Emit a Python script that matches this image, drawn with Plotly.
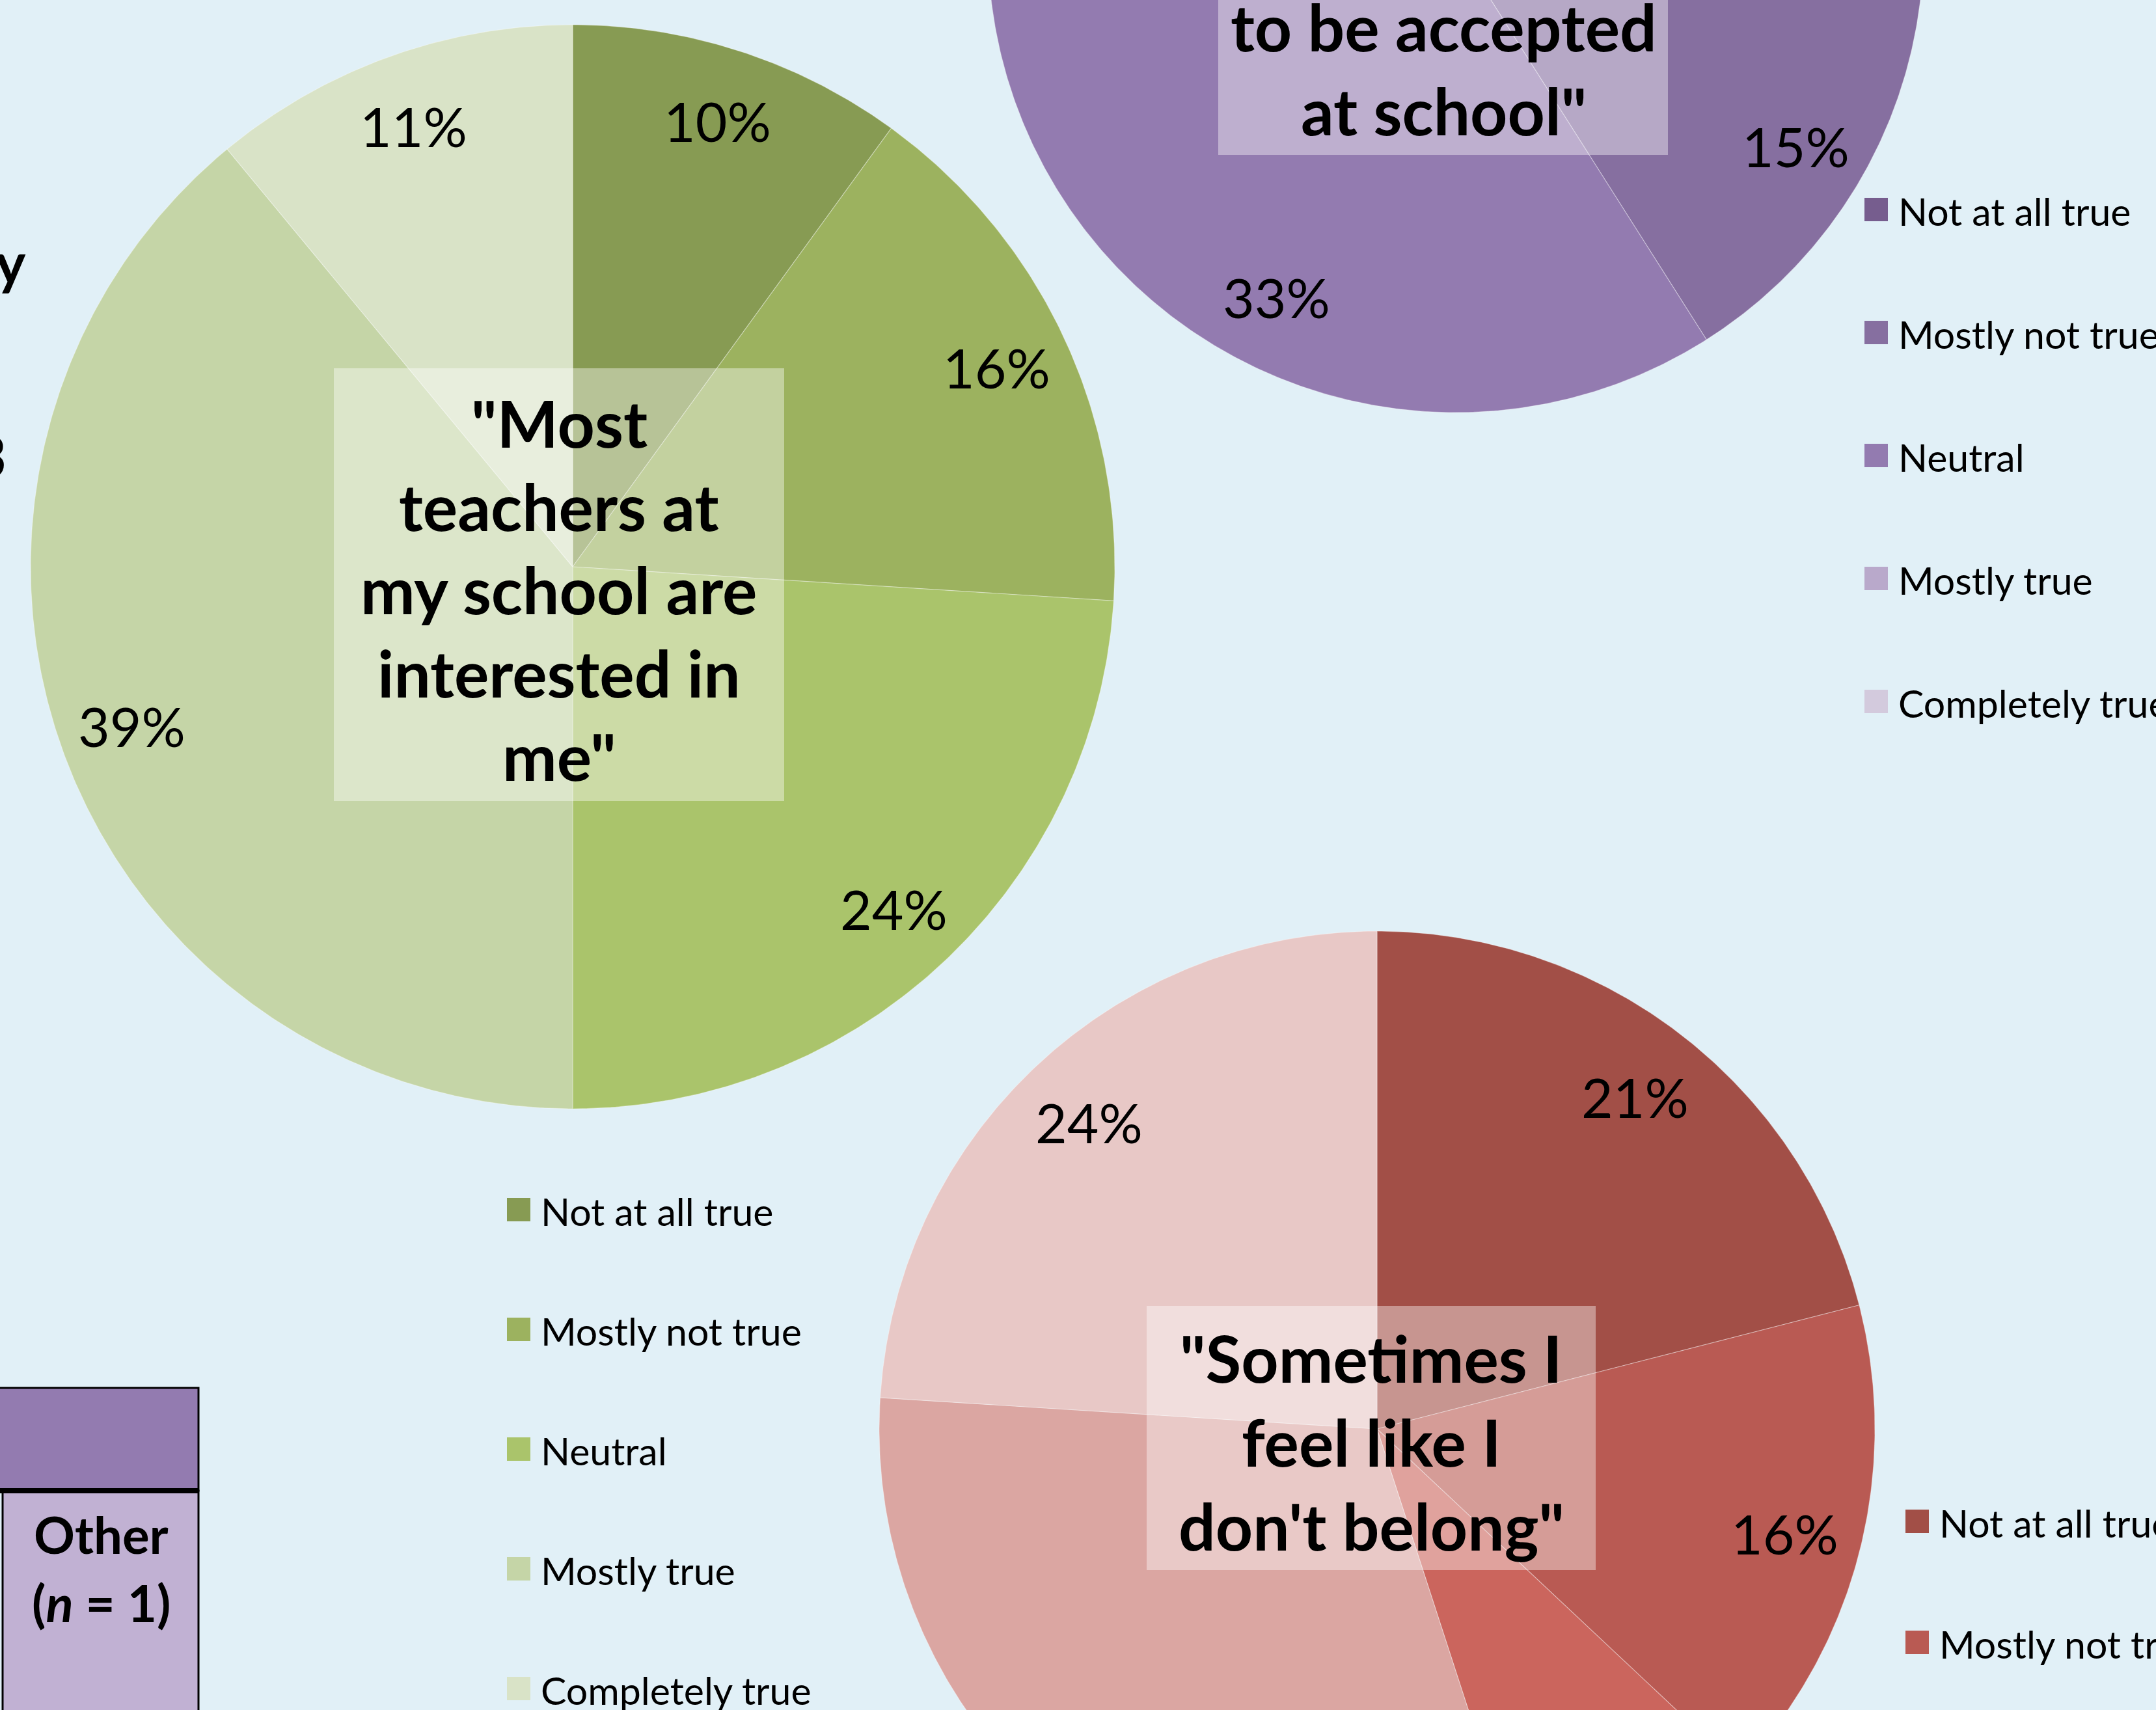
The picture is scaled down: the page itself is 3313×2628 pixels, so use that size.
import numpy as np
import plotly.graph_objects as go

# ---------------- data ----------------
categories = ["Not at all true", "Mostly not true", "Neutral", "Mostly true", "Completely true"]
teachers_values = [10, 16, 24, 39, 11]      # "Most teachers at my school are interested in me"
accepted_values = [26, 15, 33, 18, 8]       # "... to be accepted at school"
belong_values = [21, 16, 8, 31, 24]         # "Sometimes I feel like I don't belong"

teachers_title = ['"Most', 'teachers at', 'my school are', 'interested in', 'me"']
accepted_title = ['to be accepted', 'at school"']
belong_title = ['"Sometimes I', 'feel like I', "don't belong\""]

green_colors = ["#879B53", "#9CB25F", "#AAC46B", "#C5D5A7", "#D9E3C7"]
purple_colors = ["#765D8E", "#866FA0", "#937BB0", "#B9A9CB", "#D3CADD"]
red_colors = ["#A24F47", "#B95A53", "#CB655D", "#DBA6A2", "#E8C8C6"]

# ---------------- layout constants ----------------
W, H = 3313, 2628
BG = "#E1F0F7"
FONT = "Lato, 'Open Sans', sans-serif"

pies = [
    dict(values=teachers_values, colors=green_colors, cx=880, cy=871, r=833, lab=0.865,
         box=(513, 566, 1205, 1231), title=teachers_title, tx=859, ty0=649, tdy=128,
         leg_x=779, leg_y0=1859, leg_dy=184),
    dict(values=accepted_values, colors=purple_colors, cx=2237, cy=-85, r=719, lab=0.845,
         box=(1872, -5, 2563, 238), title=accepted_title, tx=2218, ty0=40, tdy=129,
         leg_x=2865, leg_y0=322, leg_dy=189),
    dict(values=belong_values, colors=red_colors, cx=2116, cy=2196, r=765, lab=0.845,
         box=(1762, 2007, 2452, 2413), title=belong_title, tx=2107, ty0=2086, tdy=129,
         leg_x=2928, leg_y0=2338, leg_dy=186),
]

fig = go.Figure()
annotations = []
shapes = []

for p in pies:
    vals = np.array(p["values"], dtype=float)
    frac = vals / vals.sum()
    cum = np.concatenate([[0.0], np.cumsum(frac)]) * 2 * np.pi
    cx, cy, r = p["cx"], p["cy"], p["r"]
    for i, cat in enumerate(categories):
        a0, a1 = cum[i], cum[i + 1]
        n = max(4, int(np.degrees(a1 - a0) * 2))
        t = np.linspace(a0, a1, n)
        xs = np.concatenate([[cx], cx + r * np.sin(t), [cx]])
        ys = np.concatenate([[cy], cy - r * np.cos(t), [cy]])
        fig.add_trace(go.Scatter(
            x=xs, y=ys, mode="lines", fill="toself",
            fillcolor=p["colors"][i],
            line=dict(color="rgba(255,255,255,0.35)", width=1.2),
            hoverinfo="skip", showlegend=False, name=cat))
        mid = (a0 + a1) / 2
        lx = cx + p["lab"] * r * np.sin(mid)
        ly = cy - p["lab"] * r * np.cos(mid)
        annotations.append(dict(
            x=lx, y=ly, xref="x", yref="y", text=f"{p['values'][i]}%",
            showarrow=False, xanchor="center", yanchor="middle",
            font=dict(family=FONT, size=84, color="#000000")))
        # legend entry
        ly_leg = p["leg_y0"] + i * p["leg_dy"]
        shapes.append(dict(type="rect", xref="x", yref="y",
                           x0=p["leg_x"], x1=p["leg_x"] + 36,
                           y0=ly_leg - 18, y1=ly_leg + 18,
                           fillcolor=p["colors"][i], line=dict(width=0), layer="above"))
        annotations.append(dict(
            x=p["leg_x"] + 50, y=ly_leg + 2, xref="x", yref="y", text=cat,
            showarrow=False, xanchor="left", yanchor="middle",
            font=dict(family=FONT, size=59, color="#000000")))

    # translucent title box
    bx0, by0, bx1, by1 = p["box"]
    shapes.append(dict(type="rect", xref="x", yref="y", x0=bx0, x1=bx1, y0=by0, y1=by1,
                       fillcolor="rgba(255,255,255,0.40)", line=dict(width=0), layer="above"))
    for j, line in enumerate(p["title"]):
        annotations.append(dict(
            x=p["tx"], y=p["ty0"] + j * p["tdy"], xref="x", yref="y",
            text=f"<b>{line}</b>", showarrow=False, xanchor="center", yanchor="middle",
            font=dict(family=FONT, size=100, color="#000000")))

# ---------------- partial table at the bottom-left ----------------
shapes.append(dict(type="rect", xref="x", yref="y", x0=-10, x1=305, y0=2133, y1=2291,
                   fillcolor="#937BB0", line=dict(color="#000000", width=3), layer="above"))
shapes.append(dict(type="rect", xref="x", yref="y", x0=4, x1=305, y0=2291, y1=2700,
                   fillcolor="#C1B1D3", line=dict(color="#000000", width=3), layer="above"))
shapes.append(dict(type="line", xref="x", yref="y", x0=-10, x1=306, y0=2291, y1=2291,
                   line=dict(color="#000000", width=8), layer="above"))
annotations.append(dict(x=155, y=2358, xref="x", yref="y", text="<b>Other</b>",
                        showarrow=False, xanchor="center", yanchor="middle",
                        font=dict(family=FONT, size=78, color="#000000")))
annotations.append(dict(x=155, y=2463, xref="x", yref="y", text="<b>(<i>n</i> = 1)</b>",
                        showarrow=False, xanchor="center", yanchor="middle",
                        font=dict(family=FONT, size=78, color="#000000")))

# ---------------- clipped text fragments at the left edge ----------------
annotations.append(dict(x=42, y=402, xref="x", yref="y", text="<b>y</b>",
                        showarrow=False, xanchor="right", yanchor="middle",
                        font=dict(family=FONT, size=88, color="#000000")))
annotations.append(dict(x=12, y=700, xref="x", yref="y", text="<b>3</b>",
                        showarrow=False, xanchor="right", yanchor="middle",
                        font=dict(family=FONT, size=88, color="#000000")))

fig.update_layout(
    width=W, height=H,
    margin=dict(l=0, r=0, t=0, b=0, pad=0),
    paper_bgcolor=BG, plot_bgcolor=BG,
    xaxis=dict(range=[0, W], visible=False, fixedrange=True),
    yaxis=dict(range=[H, 0], visible=False, fixedrange=True),
    shapes=shapes, annotations=annotations,
    showlegend=False,
)

fig.write_html(
    "out.html",
    config={"displayModeBar": False},
    post_script="document.body.style.margin='0';document.body.style.overflow='hidden';",
)
